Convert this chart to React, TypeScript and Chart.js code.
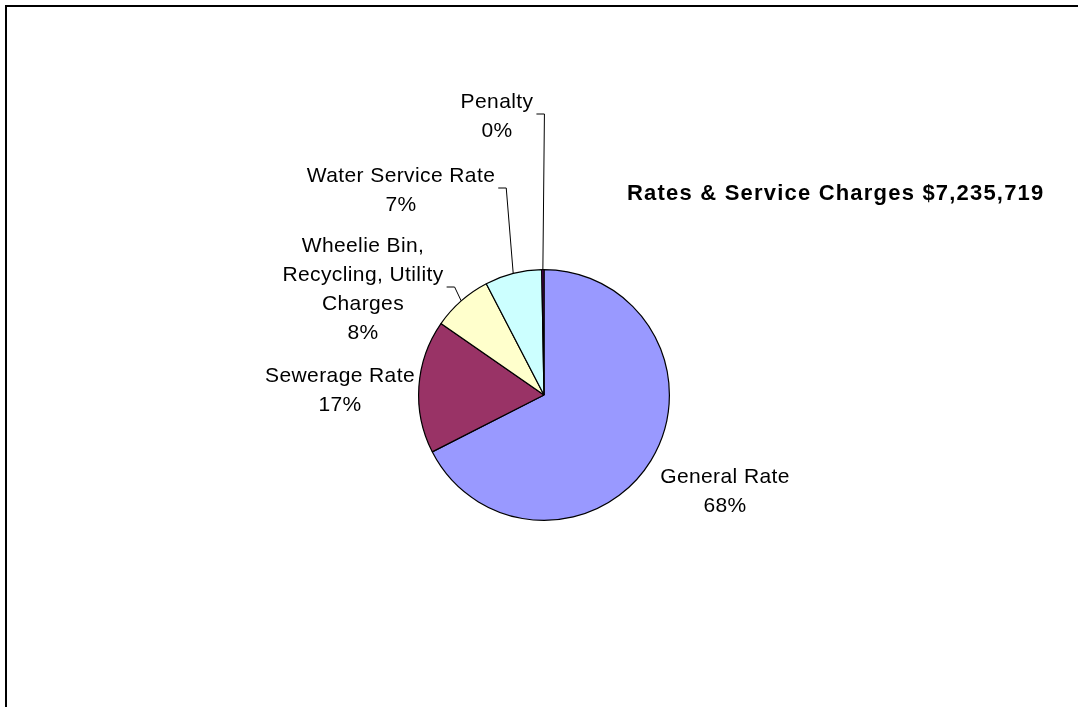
import React, { useEffect, useRef } from "react";
import { Chart, registerables } from "chart.js";

Chart.register(...registerables);

const categories = [
  "General Rate",
  "Sewerage Rate",
  "Wheelie Bin, Recycling, Utility Charges",
  "Water Service Rate",
  "Penalty",
];
const labelLines = [
  ["General Rate"],
  ["Sewerage Rate"],
  ["Wheelie Bin,", "Recycling, Utility", "Charges"],
  ["Water Service Rate"],
  ["Penalty"],
];
const values = [4885000, 1240000, 560000, 530000, 20719];
const sliceColors = ["#9999FF", "#993366", "#FFFFCC", "#CCFFFF", "#660066"];
const titleText = "Rates & Service Charges $7,235,719";

// label layout: label centre x / first baseline relative to pie centre, whether a leader line is drawn
const labelLayout = [
  { dx: 181, dy: 88, leader: false },
  { dx: -204, dy: -13, leader: false },
  { dx: -181, dy: -143, leader: true },
  { dx: -143, dy: -213, leader: true },
  { dx: -47, dy: -287, leader: true },
];

const FONT = '"Liberation Sans", Arial, sans-serif';
const LINE_H = 29;

const labelPlugin = {
  id: "pieLabels",
  afterDraw(chart: any) {
    const ctx = chart.ctx as CanvasRenderingContext2D;
    const meta = chart.getDatasetMeta(0);
    const total = values.reduce((a, b) => a + b, 0);
    ctx.save();
    ctx.fillStyle = "#000";
    ctx.textAlign = "center";
    ctx.textBaseline = "alphabetic";
    ctx.font = `21px ${FONT}`;
    (ctx as any).letterSpacing = "0.4px";
    meta.data.forEach((arc: any, i: number) => {
      const { x: cx, y: cy, startAngle, endAngle, outerRadius } = arc.getProps(
        ["x", "y", "startAngle", "endAngle", "outerRadius"],
        true
      );
      const lay = labelLayout[i];
      const lx = cx + lay.dx;
      const ly = cy + lay.dy;
      const pct = Math.round((values[i] / total) * 100) + "%";
      const lines = [...labelLines[i], pct];
      let maxW = 0;
      lines.forEach((t, k) => {
        ctx.fillText(t, lx, ly + k * LINE_H);
        maxW = Math.max(maxW, ctx.measureText(t).width);
      });
      if (lay.leader) {
        const mid = (startAngle + endAngle) / 2;
        const px = cx + Math.cos(mid) * outerRadius;
        const py = cy + Math.sin(mid) * outerRadius;
        const sx = lx + maxW / 2 + 3;
        const sy = (ly + ly + (lines.length - 1) * LINE_H) / 2 - 9;
        ctx.beginPath();
        ctx.strokeStyle = "#000";
        ctx.lineWidth = 1;
        ctx.moveTo(sx, sy + 0.5);
        ctx.lineTo(sx + 8, sy + 0.5);
        ctx.lineTo(px, py);
        ctx.stroke();
      }
    });
    // title
    ctx.font = `bold 22px ${FONT}`;
    (ctx as any).letterSpacing = "1.2px";
    ctx.textAlign = "left";
    ctx.fillText(titleText, 627, 200);
    ctx.restore();
  },
};

export default function App() {
  const ref = useRef<HTMLCanvasElement | null>(null);
  useEffect(() => {
    if (!ref.current) return;
    const chart = new Chart(ref.current, {
      type: "pie",
      data: {
        labels: categories,
        datasets: [
          {
            data: values,
            backgroundColor: sliceColors,
            borderColor: "#000000",
            borderWidth: 1.2,
          },
        ],
      },
      options: {
        responsive: false,
        animation: false,
        devicePixelRatio: 1,
        layout: { padding: { left: 418, right: 408, top: 269, bottom: 186 } },
        plugins: {
          legend: { display: false },
          tooltip: { enabled: false },
          title: { display: false },
        },
      },
      plugins: [labelPlugin],
    });
    return () => chart.destroy();
  }, []);
  return (
    <div
      style={{
        position: "fixed",
        left: 0,
        top: 0,
        width: 1078,
        height: 707,
        overflow: "hidden",
        background: "#fff",
      }}
    >
      <div
        style={{
          position: "absolute",
          left: 5,
          top: 5,
          width: 1200,
          height: 800,
          border: "2px solid #000",
          boxSizing: "border-box",
        }}
      />
      <canvas
        ref={ref}
        width={1078}
        height={707}
        style={{ position: "absolute", left: 0, top: 0, width: 1078, height: 707 }}
      />
    </div>
  );
}
